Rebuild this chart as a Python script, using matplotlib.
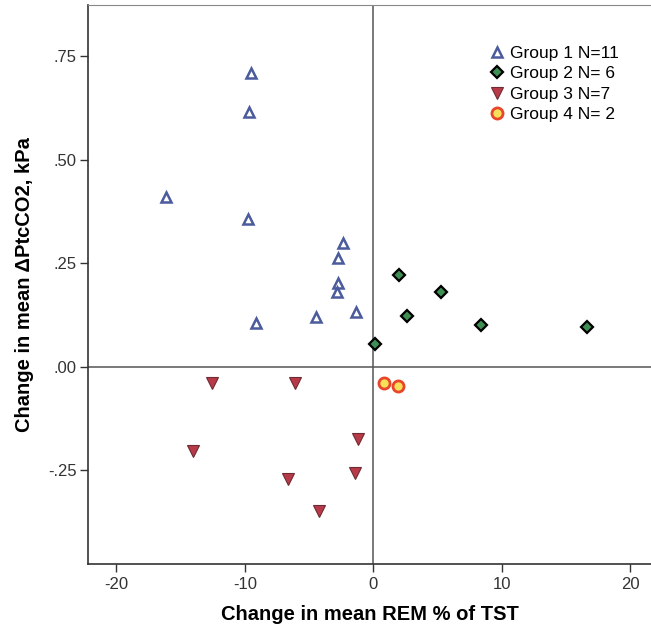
from matplotlib import pyplot as plt

# change in mean REM % of TST (x) and change in mean dPtcCO2, kPa (y)
g1_x = [-9.55, -9.70, -16.16, -9.78, -2.35, -2.74, -2.74, -2.84, -9.16, -4.47, -1.34]
g1_y = [0.710, 0.615, 0.410, 0.358, 0.300, 0.262, 0.202, 0.181, 0.106, 0.120, 0.132]

g2_x = [2.0, 5.23, 2.63, 8.41, 16.6, 0.12]
g2_y = [0.223, 0.181, 0.124, 0.100, 0.096, 0.055]

g3_x = [-12.58, -6.08, -14.0, -1.18, -6.65, -1.46, -4.26]
g3_y = [-0.040, -0.040, -0.203, -0.173, -0.271, -0.256, -0.347]

g4_x = [0.84, 1.93]
g4_y = [-0.038, -0.047]

labels = ["Group 1 N=11", "Group 2 N= 6", "Group 3 N=7", "Group 4 N= 2"]
yticks = [-0.25, 0.0, 0.25, 0.5, 0.75]
ytick_labels = ["-.25", ".00", ".25", ".50", ".75"]
xticks = [-20, -10, 0, 10, 20]

plt.rcParams["font.family"] = ["Liberation Sans", "DejaVu Sans"]
plt.rcParams["axes.unicode_minus"] = False

fig = plt.figure(figsize=(6.51, 6.32), dpi=100)
ax = fig.add_axes([0.1352, 0.1076, 0.8648, 0.8845])

ax.axvline(0, color="#555555", lw=1.1, zorder=1)
ax.axhline(0, color="#555555", lw=1.1, zorder=1)

ax.plot(g1_x, g1_y, ls="none", marker="^", ms=7.5, mfc="white",
        mec="#4b5b9c", mew=1.8, label=labels[0], zorder=3)
ax.plot(g2_x, g2_y, ls="none", marker="D", ms=6.5, mfc="#3f8f55",
        mec="black", mew=1.6, label=labels[1], zorder=3)
ax.plot(g3_x, g3_y, ls="none", marker="v", ms=8, mfc="#b83a48",
        mec="#6e2b33", mew=0.8, label=labels[2], zorder=3)
ax.plot(g4_x, g4_y, ls="none", marker="o", ms=8, mfc="#f6e05a",
        mec="#e8452a", mew=2.0, label=labels[3], zorder=3)

ax.set_xlim(-22.2, 21.6)
ax.set_ylim(-0.476, 0.874)
ax.set_xticks(xticks)
ax.set_yticks(yticks)
ax.set_yticklabels(ytick_labels)
ax.tick_params(labelsize=12, colors="#333333", length=6, width=1)
ax.tick_params(axis="y", pad=2)

for s in ["left", "bottom"]:
    ax.spines[s].set_color("#333333")
    ax.spines[s].set_linewidth(1.2)
ax.spines["top"].set_color("#888888")
ax.spines["right"].set_visible(False)

ax.set_xlabel("Change in mean REM % of TST", fontsize=14.5, fontweight="bold", labelpad=9)
ax.set_ylabel("Change in mean \u0394PtcCO2, kPa", fontsize=14.5, fontweight="bold", labelpad=10)

ax.legend(loc="upper left", bbox_to_anchor=(0.681, 0.955), frameon=False,
          fontsize=12.5, handletextpad=0.25, labelspacing=0.3, handlelength=1.1)

plt.savefig("out.png", dpi=100)
